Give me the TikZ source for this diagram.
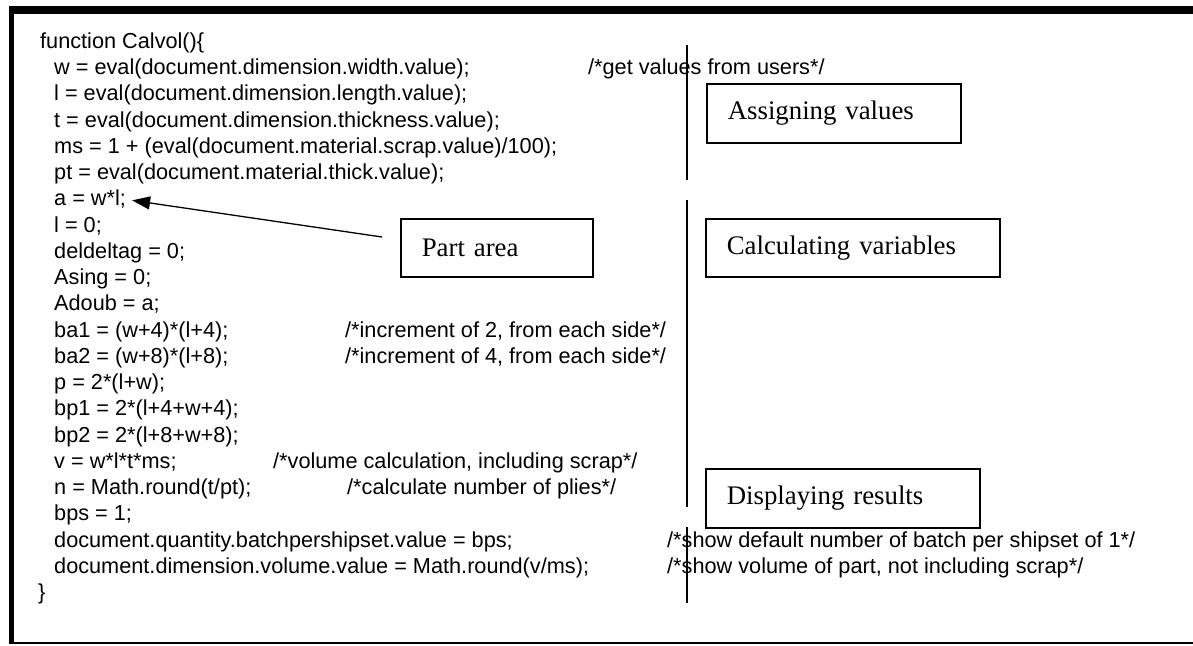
\documentclass[tikz,border=0pt]{standalone}
\usepackage{fontspec}
\newfontfamily\codefont{Liberation Sans}
\newfontfamily\labelfont{Liberation Serif}
\usetikzlibrary{arrows.meta}
% baseline of the first code line and the distance between lines
\newcommand\codetop{48.5}
\newcommand\codepitch{26.24}
\begin{document}
\begin{tikzpicture}[x=1pt,y=-1pt,
  code/.style={anchor=base west, inner sep=0pt,
    font=\codefont\fontsize{21.7pt}{25pt}\selectfont},
  label box/.style={draw, line width=1.6pt, anchor=north west,
    inner xsep=21pt, inner ysep=0pt, align=left,
    font=\labelfont\fontsize{26.8pt}{30pt}\selectfont},
  divider/.style={line width=1.5pt},
  pointer/.style={line width=1.3pt, -{Triangle[length=18pt,width=13pt]},
    shorten >=6pt}]

\useasboundingbox (0,0) rectangle (1193,645);
\fill[white] (0,0) rectangle (1193,645);

% page frame: heavy top and left rules, thin bottom rule
\fill[black] (9,6) rectangle (1193,14);
\fill[black] (9,6) rectangle (14,643);
\fill[black] (9,641.5) rectangle (1193,643.5);

% the function listing
\node[code] (c0)  at (40,{\codetop+\codepitch*0})  {function Calvol()\{};
\node[code] (c1)  at (54,{\codetop+\codepitch*1})  {w = eval(document.dimension.width.value);};
\node[code] (c2)  at (54,{\codetop+\codepitch*2})  {l = eval(document.dimension.length.value);};
\node[code] (c3)  at (54,{\codetop+\codepitch*3})  {t = eval(document.dimension.thickness.value);};
\node[code] (c4)  at (54,{\codetop+\codepitch*4})  {ms = 1 + (eval(document.material.scrap.value)/100);};
\node[code] (c5)  at (54,{\codetop+\codepitch*5})  {pt = eval(document.material.thick.value);};
\node[code] (c6)  at (54,{\codetop+\codepitch*6})  {a = w*l;};
\node[code] (c7)  at (54,{\codetop+\codepitch*7})  {l = 0;};
\node[code] (c8)  at (54,{\codetop+\codepitch*8})  {deldeltag = 0;};
\node[code] (c9)  at (54,{\codetop+\codepitch*9})  {Asing = 0;};
\node[code] (c10) at (54,{\codetop+\codepitch*10}) {Adoub = a;};
\node[code] (c11) at (54,{\codetop+\codepitch*11}) {ba1 = (w+4)*(l+4);};
\node[code] (c12) at (54,{\codetop+\codepitch*12}) {ba2 = (w+8)*(l+8);};
\node[code] (c13) at (54,{\codetop+\codepitch*13}) {p = 2*(l+w);};
\node[code] (c14) at (54,{\codetop+\codepitch*14}) {bp1 = 2*(l+4+w+4);};
\node[code] (c15) at (54,{\codetop+\codepitch*15}) {bp2 = 2*(l+8+w+8);};
\node[code] (c16) at (54,{\codetop+\codepitch*16}) {v = w*l*t*ms;};
\node[code] (c17) at (54,{\codetop+\codepitch*17}) {n = Math.round(t/pt);};
\node[code] (c18) at (54,{\codetop+\codepitch*18}) {bps = 1;};
\node[code] (c19) at (54,{\codetop+\codepitch*19}) {document.quantity.batchpershipset.value = bps;};
\node[code] (c20) at (54,{\codetop+\codepitch*20}) {document.dimension.volume.value = Math.round(v/ms);};
\node[code] (c21) at (38,{\codetop+\codepitch*21}) {\}};

% comments on the same lines
\node[code] (m1)  at (588,{\codetop+\codepitch*1})  {/*get values from users*/};
\node[code] (m11) at (345,{\codetop+\codepitch*11}) {/*increment of 2, from each side*/};
\node[code] (m12) at (345,{\codetop+\codepitch*12}) {/*increment of 4, from each side*/};
\node[code] (m16) at (273,{\codetop+\codepitch*16}) {/*volume calculation, including scrap*/};
\node[code] (m17) at (347,{\codetop+\codepitch*17}) {/*calculate number of plies*/};
\node[code] (m19) at (667,{\codetop+\codepitch*19}) {/*show default number of batch per shipset of 1*/};
\node[code] (m20) at (667,{\codetop+\codepitch*20}) {/*show volume of part, not including scrap*/};

% section dividers
\draw[divider] (687,45) -- (687,180);
\draw[divider] (687,200) -- (687,507);
\draw[divider] (687,527) -- (687,603);

% section labels
\node[label box, text width=212pt, minimum height=59pt] (assign)  at (706,83)  {Assigning values};
\node[label box, text width=150pt, minimum height=58pt] (part)    at (400,218) {Part area};
\node[label box, text width=252pt, minimum height=58pt] (calc)    at (705,218) {Calculating variables};
\node[label box, text width=232pt, minimum height=59pt] (display) at (705,468) {Displaying results};

% pointer from the part-area label to its line of code
\coordinate (ptail) at (382,237);
\draw[pointer] (ptail) -- (c6.east);
\end{tikzpicture}
\end{document}
